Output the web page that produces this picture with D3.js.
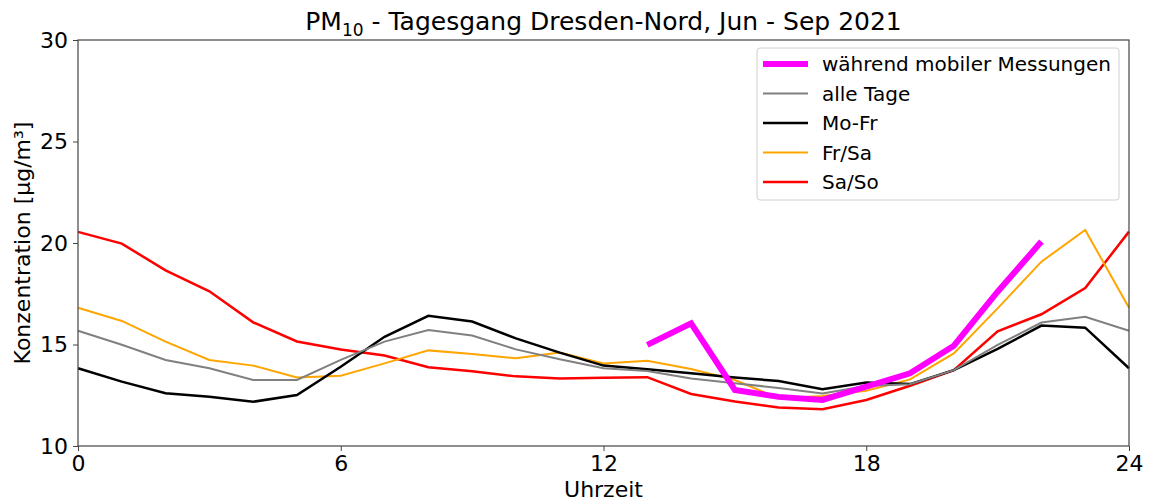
<!DOCTYPE html>
<html>
<head>
<meta charset="utf-8">
<script src="https://cdn.jsdelivr.net/npm/d3@7"></script>
<style>
  body { margin: 0; background: #fff; }
  svg { font-family: "DejaVu Sans", sans-serif; }
</style>
</head>
<body>
<div id="chart"></div>
<script>
var width = 1150,
    height = 504;

// hours of day 0..24
const hours = d3.range(0, 25);

const alleTage = [15.68, 14.99, 14.24, 13.83, 13.25, 13.25, 14.24, 15.14, 15.71, 15.44, 14.76, 14.27, 13.83, 13.7, 13.33, 13.09, 12.86, 12.59, 12.96, 13.04, 13.74, 14.98, 16.08, 16.37, 15.68];
const moFr = [13.83, 13.17, 12.6, 12.43, 12.18, 12.51, 13.9, 15.38, 16.41, 16.13, 15.3, 14.6, 13.96, 13.78, 13.58, 13.38, 13.2, 12.8, 13.13, 13.05, 13.74, 14.78, 15.93, 15.83, 13.83];
const frSa = [16.81, 16.16, 15.14, 14.24, 13.96, 13.38, 13.46, 14.07, 14.71, 14.53, 14.32, 14.6, 14.07, 14.2, 13.79, 13.25, 12.35, 12.46, 12.72, 13.28, 14.56, 16.78, 19.08, 20.64, 16.81];
const saSo = [20.55, 19.97, 18.65, 17.62, 16.09, 15.15, 14.75, 14.46, 13.88, 13.68, 13.43, 13.33, 13.36, 13.39, 12.56, 12.19, 11.9, 11.81, 12.27, 12.97, 13.74, 15.65, 16.49, 17.78, 20.56];
// mobile measurements only between 13 and 22 h
const mobilHours = d3.range(13, 23);
const mobil = [14.98, 16.04, 12.76, 12.42, 12.27, 12.93, 13.58, 14.94, 17.6, 20.07];

const xTicks = [0, 6, 12, 18, 24];
const yTicks = [10, 15, 20, 25, 30];

const series = [
  {name: "während mobiler Messungen", x: mobilHours, y: mobil, color: "#ff00ff", width: 6},
  {name: "alle Tage", x: hours, y: alleTage, color: "#808080", width: 2},
  {name: "Mo-Fr", x: hours, y: moFr, color: "#000000", width: 2.5},
  {name: "Fr/Sa", x: hours, y: frSa, color: "#ffa500", width: 2},
  {name: "Sa/So", x: hours, y: saSo, color: "#ff0000", width: 2.5}
];

var margin = {top: 40, right: 21, bottom: 58, left: 78};

var svg = d3.select('#chart').append('svg')
  .attr('width', width)
  .attr('height', height);

var x = d3.scaleLinear().domain([0, 24]).range([margin.left, width - margin.right]);
var y = d3.scaleLinear().domain([10, 30]).range([height - margin.bottom, margin.top]);

// title
var title = svg.append('text')
  .attr('x', (margin.left + width - margin.right) / 2)
  .attr('y', 30)
  .attr('text-anchor', 'middle')
  .style('font-size', '25px');
title.append('tspan').text('PM');
title.append('tspan').attr('dy', 6).style('font-size', '17px').text('10');
title.append('tspan').attr('dy', -6).text(' - Tagesgang Dresden-Nord, Jun - Sep 2021');

// lines, drawn bottom-up so that the magenta one is on top
var line = d3.line();
series.slice().reverse().forEach(function(s) {
  svg.append('path')
    .datum(s.x.map(function(h, i) { return [x(h), y(s.y[i])]; }))
    .attr('fill', 'none')
    .attr('stroke', s.color)
    .attr('stroke-width', s.width)
    .attr('stroke-linejoin', 'miter')
    .attr('d', line);
});

// axes
var xAxis = svg.append('g')
  .attr('transform', 'translate(0,' + (height - margin.bottom) + ')')
  .call(d3.axisBottom(x).tickValues(xTicks).tickSize(5).tickPadding(4));
var yAxis = svg.append('g')
  .attr('transform', 'translate(' + margin.left + ',0)')
  .call(d3.axisLeft(y).tickValues(yTicks).tickSize(5).tickPadding(5));

[xAxis, yAxis].forEach(function(a) {
  a.select('.domain').remove();
  a.selectAll('text').style('font-size', '22px').attr('fill', '#000').style('font-family', '"DejaVu Sans", sans-serif');
  a.selectAll('line').attr('stroke', '#444');
});

// frame
svg.append('rect')
  .attr('x', margin.left)
  .attr('y', margin.top)
  .attr('width', width - margin.left - margin.right)
  .attr('height', height - margin.top - margin.bottom)
  .attr('fill', 'none')
  .attr('stroke', '#444')
  .attr('stroke-width', 1.2);

// axis labels
svg.append('text')
  .attr('x', (margin.left + width - margin.right) / 2)
  .attr('y', 497)
  .attr('text-anchor', 'middle')
  .style('font-size', '22px')
  .text('Uhrzeit');

svg.append('text')
  .attr('transform', 'translate(30,' + ((margin.top + height - margin.bottom) / 2) + ') rotate(-90)')
  .attr('text-anchor', 'middle')
  .style('font-size', '22px')
  .text('Konzentration [µg/m³]');

// legend
var legend = svg.append('g').attr('transform', 'translate(757,48)');
legend.append('rect')
  .attr('width', 362)
  .attr('height', 152)
  .attr('rx', 3)
  .attr('fill', '#fff')
  .attr('fill-opacity', 0.8)
  .attr('stroke', '#d0d0d0');

series.forEach(function(s, i) {
  var row = legend.append('g').attr('transform', 'translate(0,' + (16 + i * 29.5) + ')');
  row.append('line')
    .attr('x1', 6).attr('x2', 51)
    .attr('stroke', s.color)
    .attr('stroke-width', s.width);
  row.append('text')
    .attr('x', 65)
    .attr('dy', '0.35em')
    .style('font-size', '20px')
    .text(s.name);
});
</script>
</body>
</html>
